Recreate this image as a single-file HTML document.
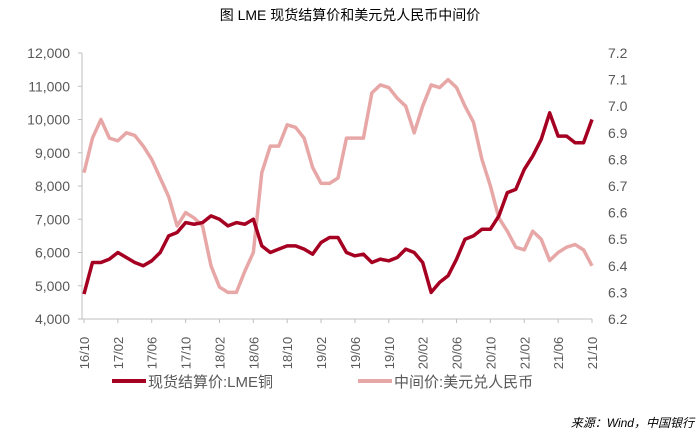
<!DOCTYPE html>
<html><head><meta charset="utf-8"><style>
body{margin:0;background:#fff;}
svg text{font-family:"Liberation Sans","Noto Sans CJK SC",sans-serif;}
</style></head><body>
<svg id="chart" width="700" height="442" xmlns="http://www.w3.org/2000/svg">
<text x="350" y="20" text-anchor="middle" font-size="14" fill="#000">图  LME 现货结算价和美元兑人民币中间价</text>
<g id="axes"></g>
<g id="series"></g>
<g>
<g><line x1="112" y1="381" x2="146" y2="381" stroke="#a50021" stroke-width="4"/><text x="148" y="387" font-size="15" fill="#595959">现货结算价:LME铜</text></g>
<g><line x1="358" y1="381" x2="392" y2="381" stroke="#e8a7a7" stroke-width="4"/><text x="394" y="387" font-size="15" fill="#595959">中间价:美元兑人民币</text></g>
</g>
<text x="694" y="427" text-anchor="end" font-size="12" font-style="italic" fill="#000">来源：Wind，中国银行</text>
</svg>
<script>
const xLabels=["16/10","17/02","17/06","17/10","18/02","18/06","18/10","19/02","19/06","19/10","20/02","20/06","20/10","21/02","21/06","21/10"];
const leftTicks=[4000,5000,6000,7000,8000,9000,10000,11000,12000];
const rightTicks=[6.2,6.3,6.4,6.5,6.6,6.7,6.8,6.9,7.0,7.1,7.2];
const copper=[4750,5700,5700,5800,6000,5850,5700,5600,5750,6000,6500,6600,6900,6850,6900,7100,7000,6800,6900,6850,7000,6200,6000,6100,6200,6200,6100,5950,6300,6450,6450,6000,5900,5950,5700,5800,5750,5850,6100,6000,5700,4800,5100,5300,5800,6400,6500,6700,6700,7100,7800,7900,8500,8900,9400,10200,9500,9500,9300,9300,10000];
const usdcny=[6.75,6.88,6.95,6.88,6.87,6.90,6.89,6.85,6.80,6.73,6.66,6.55,6.60,6.58,6.55,6.40,6.32,6.30,6.30,6.38,6.45,6.75,6.85,6.85,6.93,6.92,6.88,6.77,6.71,6.71,6.73,6.88,6.88,6.88,7.05,7.08,7.07,7.03,7.00,6.90,7.00,7.08,7.07,7.10,7.07,7.00,6.94,6.80,6.70,6.58,6.53,6.47,6.46,6.53,6.50,6.42,6.45,6.47,6.48,6.46,6.40];
const X0=84,X1=592,YT=53,YB=319;
const xs=i=>X0+i*(X1-X0)/(copper.length-1);
const yL=v=>YB-(v-4000)/8000*(YB-YT);
const yR=v=>YB-(v-6.2)/1.0*(YB-YT);
const NS="http://www.w3.org/2000/svg";
const ax=document.getElementById('axes'),sr=document.getElementById('series');
function mk(t,a,p){const e=document.createElementNS(NS,t);for(const k in a)e.setAttribute(k,a[k]);p.appendChild(e);return e;}
let l=mk('line',{x1:82,y1:YT,x2:82,y2:YB,stroke:'#bfbfbf'},ax);


l=mk('line',{x1:82,y1:YB,x2:X1,y2:YB,stroke:'#bfbfbf'},ax);


leftTicks.forEach(v=>{const y=yL(v);mk('line',{x1:78,y1:y,x2:82,y2:y,stroke:'#bfbfbf'},ax);
const t=mk('text',{x:70,y:y+5,'text-anchor':'end','font-size':14,fill:'#595959'},ax);t.textContent=v.toLocaleString('en-US');

});
rightTicks.forEach(v=>{const y=yR(v);const t=mk('text',{x:608,y:y+5,'font-size':14,fill:'#595959'},ax);t.textContent=v.toFixed(1);

});
xLabels.forEach((s,i)=>{const x=X0+i*(X1-X0)/(xLabels.length-1);mk('line',{x1:x,y1:YB,x2:x,y2:YB+4,stroke:'#bfbfbf'},ax);
const t=mk('text',{x:0,y:0,transform:`translate(${x+5},${YB+34}) rotate(-90)`,'text-anchor':'middle','font-size':13,fill:'#595959'},ax);t.textContent=s;

});
let p=mk('polyline',{points:usdcny.map((v,i)=>xs(i)+','+yR(v)).join(' '),fill:'none',stroke:'#e8a7a7','stroke-width':3.5,'stroke-linejoin':'round'},sr);


p=mk('polyline',{points:copper.map((v,i)=>xs(i)+','+yL(v)).join(' '),fill:'none',stroke:'#a50021','stroke-width':3.5,'stroke-linejoin':'round'},sr);


</script>
</body></html>
